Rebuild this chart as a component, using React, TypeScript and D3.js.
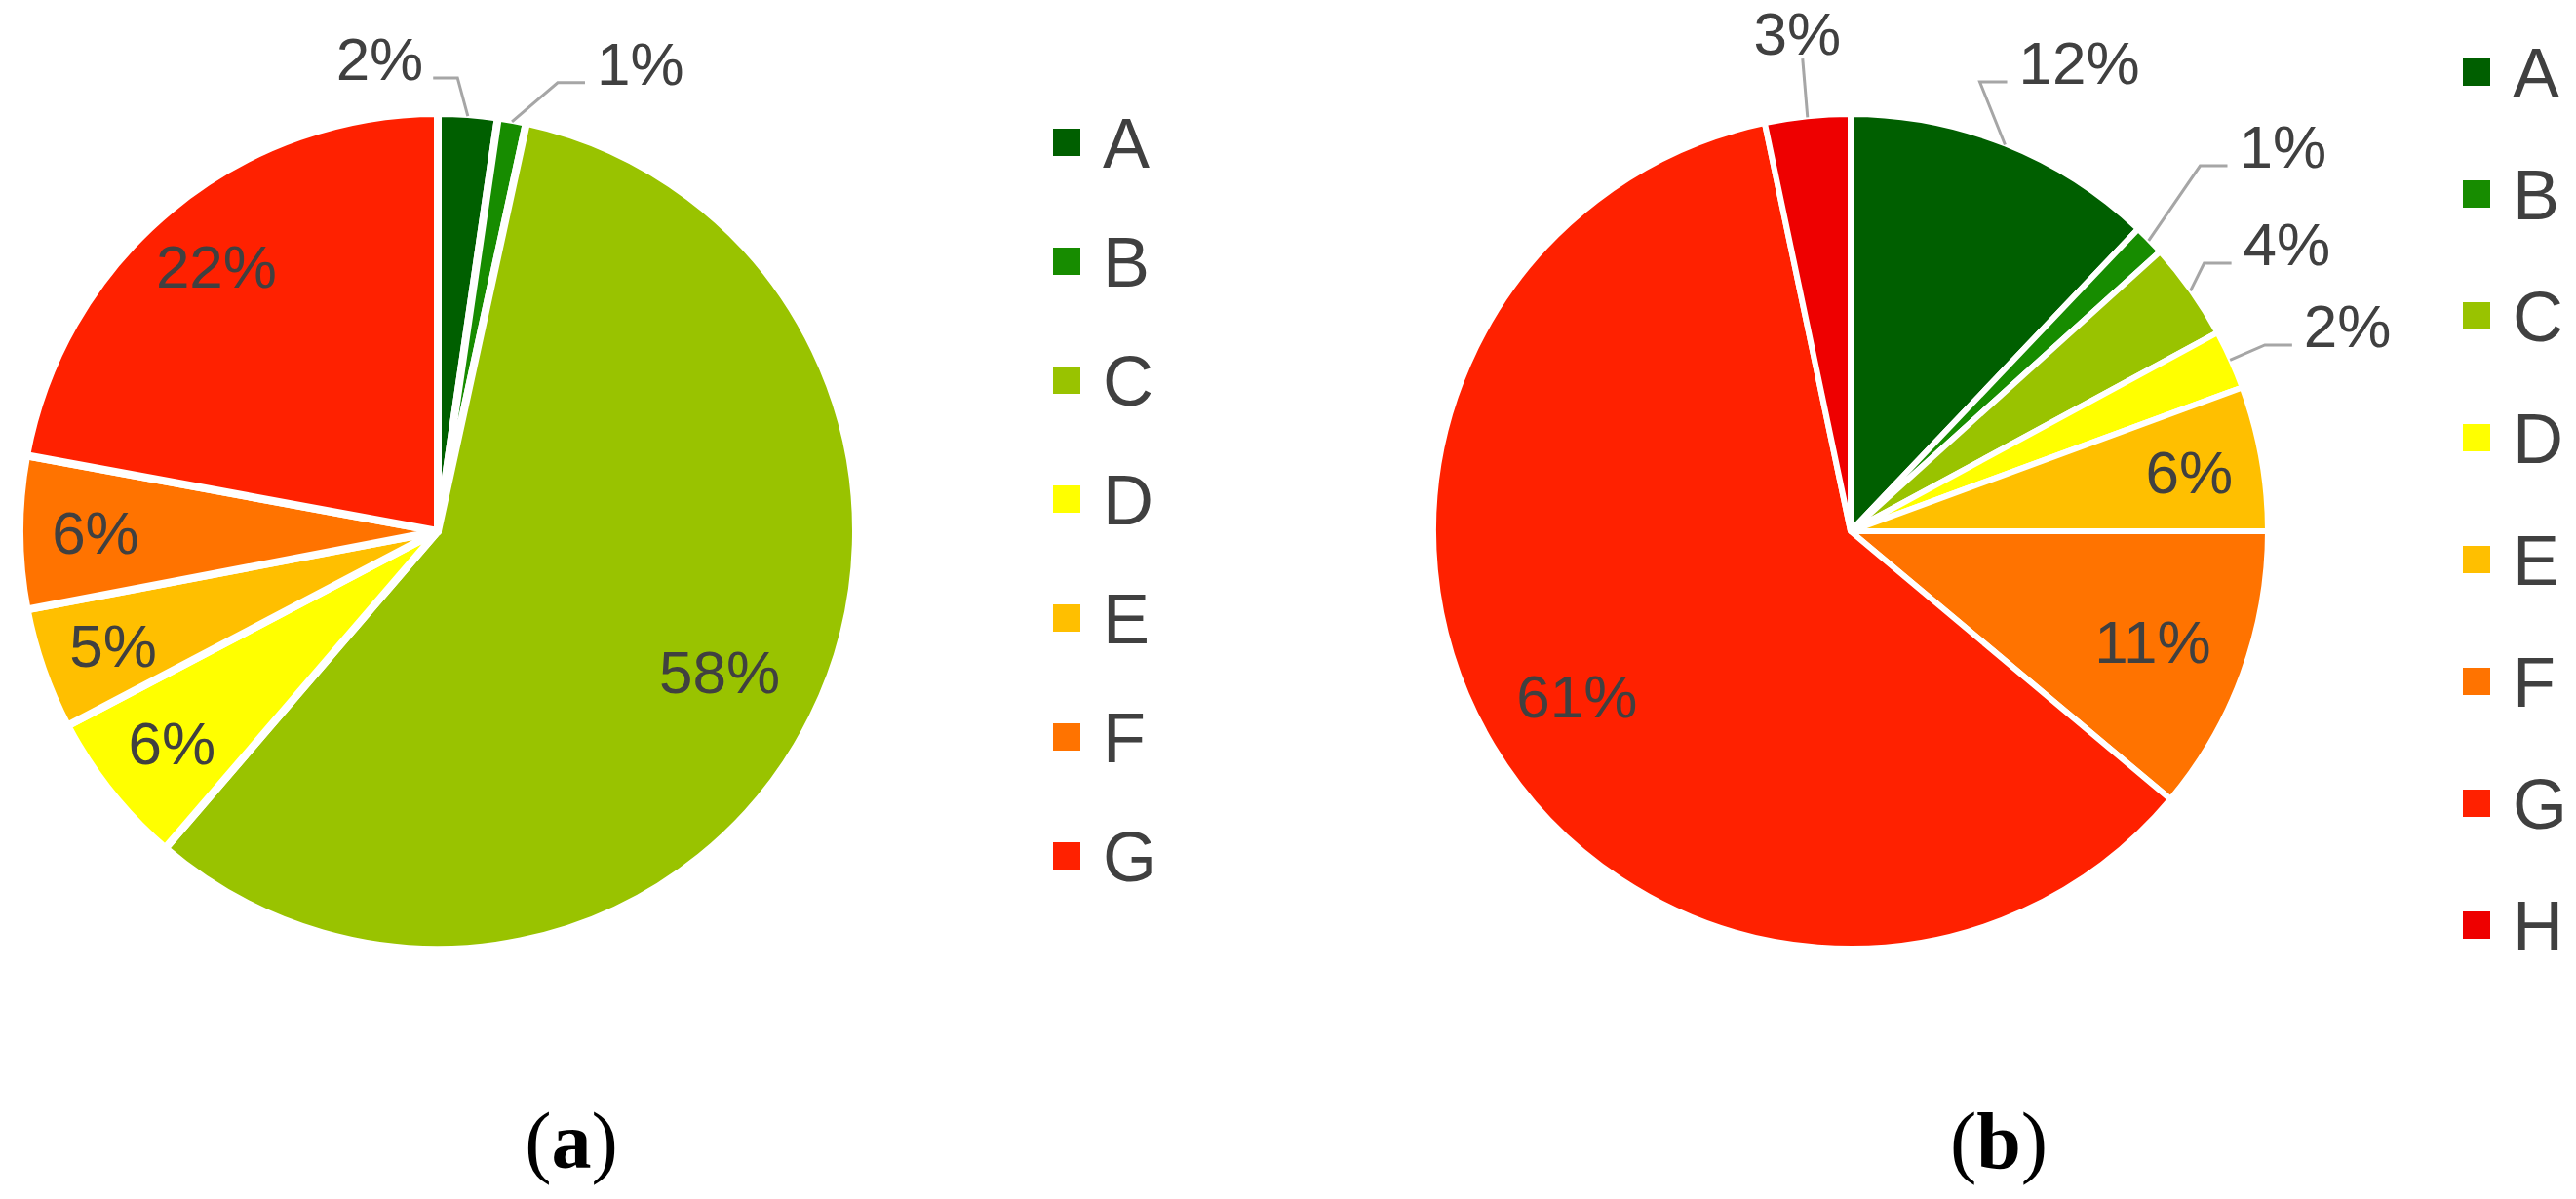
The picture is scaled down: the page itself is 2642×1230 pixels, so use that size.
import React from "react";
import * as d3 from "d3";

// ---------- data ----------
const categoriesA = ["A", "B", "C", "D", "E", "F", "G"];
const valuesA = [2.3, 1.1, 57.9, 6.0, 4.7, 5.9, 22.1];

const categoriesB = ["A", "B", "C", "D", "E", "F", "G", "H"];
const valuesB = [12.1, 1.2, 3.8, 2.3, 5.6, 11.1, 60.6, 3.3];

const palette = ["#005f00", "#178c00", "#99c300", "#ffff00", "#ffbf00", "#ff7300", "#ff2100", "#ee0000"];
const captionLetters = ["a", "b"];

// ---------- layout / style ----------
const W = 2642;
const H = 1230;
const R = 425;
const LABEL_FS = 62;
const LEGEND_FS = 72;
const TEXT_COLOR = "#404040";
const LEADER_COLOR = "#a6a6a6";

type LabelLayout = { out?: boolean; angle?: number; r: number; side?: "left" | "right" | "top" };

const labelLayoutA: LabelLayout[] = [
  { out: true, angle: -7.0, r: 1.15, side: "left" },
  { out: true, angle: 23.4, r: 1.231, side: "right" },
  { r: 0.76 },
  { r: 0.82 },
  { r: 0.83 },
  { r: 0.826 },
  { r: 0.835 },
];

const labelLayoutB: LabelLayout[] = [
  { out: true, angle: 26.0, r: 1.259, side: "right" },
  { out: true, angle: 48.3, r: 1.397, side: "right" },
  { out: true, angle: 56.6, r: 1.261, side: "right" },
  { out: true, angle: 67.5, r: 1.298, side: "right" },
  { r: 0.83 },
  { r: 0.776 },
  { r: 0.77 },
  { out: true, angle: -6.1, r: 1.209, side: "top" },
];

const panels = [
  {
    categories: categoriesA,
    values: valuesA,
    layout: labelLayoutA,
    cx: 449,
    cy: 545,
    sw: 8,
    legendX: 1080,
    legendY0: 146,
    legendStep: 122,
    captionX: 586,
  },
  {
    categories: categoriesB,
    values: valuesB,
    layout: labelLayoutB,
    cx: 1898,
    cy: 545,
    sw: 6,
    legendX: 2526,
    legendY0: 74,
    legendStep: 125,
    captionX: 2050,
  },
];

function textWidth(s: string, fs: number) {
  let w = 0;
  for (const ch of s) w += ch === "%" ? 0.889 : 0.556;
  return w * fs;
}

function polar(cx: number, cy: number, angleRad: number, r: number): [number, number] {
  return [cx + r * Math.sin(angleRad), cy - r * Math.cos(angleRad)];
}

function PiePanel({ p, idx }: { p: (typeof panels)[number]; idx: number }) {
  const pie = d3
    .pie<number>()
    .sort(null)
    .value((d) => d)
    .startAngle(0)
    .endAngle(2 * Math.PI);
  const arcs = pie(p.values);
  const arcGen = d3
    .arc<d3.PieArcDatum<number>>()
    .innerRadius(0)
    .outerRadius(R + p.sw / 2);

  return (
    <g>
      {arcs.map((a, i) => (
        <path
          key={"s" + i}
          d={arcGen(a) || ""}
          transform={`translate(${p.cx},${p.cy})`}
          fill={palette[i]}
          stroke="#ffffff"
          strokeWidth={p.sw}
          strokeLinejoin="round"
        />
      ))}
      {arcs.map((a, i) => {
        const lay = p.layout[i];
        const txt = `${Math.round(a.data)}%`;
        const mid = (a.startAngle + a.endAngle) / 2;
        if (!lay.out) {
          const [tx, ty] = polar(p.cx, p.cy, mid, lay.r * R);
          return (
            <text
              key={"l" + i}
              x={tx}
              y={ty}
              dy="0.36em"
              textAnchor="middle"
              fontFamily="'Liberation Sans', Arial, sans-serif"
              fontSize={LABEL_FS}
              fill={TEXT_COLOR}
            >
              {txt}
            </text>
          );
        }
        const [tx, ty] = polar(p.cx, p.cy, ((lay.angle || 0) * Math.PI) / 180, lay.r * R);
        const w = textWidth(txt, LABEL_FS);
        const [ax, ay] = polar(p.cx, p.cy, mid, R + 2);
        const lineY = ty + 20;
        let pts: [number, number][];
        if (lay.side === "right") {
          const x1 = tx - w / 2 - 12;
          pts = [[ax, ay], [x1 - 28, lineY], [x1, lineY]];
        } else if (lay.side === "left") {
          const x1 = tx + w / 2 + 10;
          pts = [[ax, ay], [x1 + 25, lineY], [x1, lineY]];
        } else {
          pts = [[ax, ay], [tx + w * 0.06, ty + 26]];
        }
        const line = d3.line();
        return (
          <g key={"l" + i}>
            <path d={line(pts) || ""} fill="none" stroke={LEADER_COLOR} strokeWidth={3} />
            <text
              x={tx}
              y={ty}
              dy="0.36em"
              textAnchor="middle"
              fontFamily="'Liberation Sans', Arial, sans-serif"
              fontSize={LABEL_FS}
              fill={TEXT_COLOR}
            >
              {txt}
            </text>
          </g>
        );
      })}
      {p.categories.map((c, i) => {
        const y = p.legendY0 + i * p.legendStep;
        return (
          <g key={"g" + i}>
            <rect x={p.legendX} y={y - 14} width={28} height={28} fill={palette[i]} />
            <text
              x={p.legendX + 51}
              y={y}
              dy="0.36em"
              fontFamily="'Liberation Sans', Arial, sans-serif"
              fontSize={LEGEND_FS}
              fill={TEXT_COLOR}
            >
              {c}
            </text>
          </g>
        );
      })}
      <text
        x={p.captionX}
        y={1198}
        textAnchor="middle"
        fontFamily="'Liberation Serif', 'Times New Roman', serif"
        fontSize={82}
        fill="#000000"
      >
        (<tspan fontWeight="bold">{captionLetters[idx]}</tspan>)
      </text>
    </g>
  );
}

export default function App() {
  return (
    <svg
      width={W}
      height={H}
      viewBox={`0 0 ${W} ${H}`}
      style={{ position: "absolute", left: 0, top: 0, background: "#ffffff" }}
    >
      <rect x={0} y={0} width={W} height={H} fill="#ffffff" />
      {panels.map((p, i) => (
        <PiePanel key={i} p={p} idx={i} />
      ))}
    </svg>
  );
}
